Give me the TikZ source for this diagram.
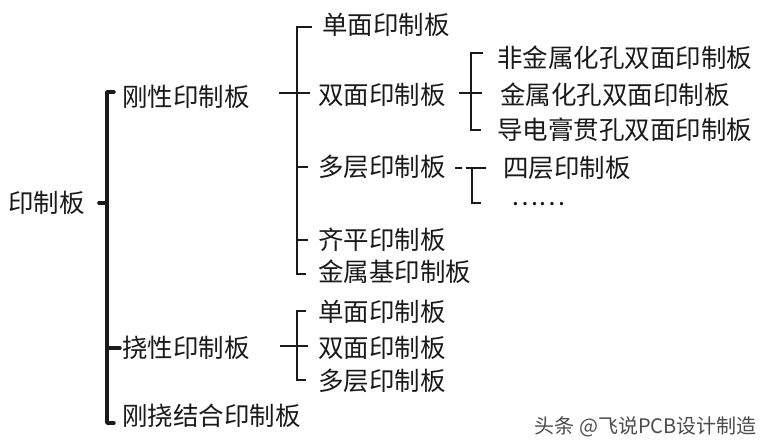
\documentclass[tikz,border=0pt]{standalone}
\usepackage{fontspec}
\setmainfont{Noto Sans CJK SC}
\definecolor{ink}{HTML}{1A1A1A}
\begin{document}
\begin{tikzpicture}[x=1pt,y=-1pt,
  lbl/.style={anchor=west,inner sep=0pt,font=\fontsize{25.5}{26}\selectfont,text=ink},
  mainbrk/.style={line width=3.4pt,line cap=round,line join=round,draw=ink},
  brk/.style={line width=1.8pt,line join=miter,draw=ink},
  wmark/.style={anchor=east,inner sep=0pt,font=\fontsize{20}{20}\selectfont,text=black!70}]
\fill[white] (0,0) rectangle (770,446);
\useasboundingbox (0,0) rectangle (770,446);

% level 0 and 1
\node[lbl] (root)  at (8,203)   {印制板};
\node[lbl] (rigid) at (122,97)  {刚性印制板};
\node[lbl] (flex)  at (122,348) {挠性印制板};
\node[lbl] (rf)    at (122,416) {刚挠结合印制板};

% rigid children
\node[lbl] (r1) at (322,25)  {单面印制板};
\node[lbl] (r2) at (318,95)  {双面印制板};
\node[lbl] (r3) at (318,167) {多层印制板};
\node[lbl] (r4) at (318,240) {齐平印制板};
\node[lbl] (r5) at (318,272) {金属基印制板};

% double-sided children
\node[lbl] (d1) at (497,58)  {非金属化孔双面印制板};
\node[lbl] (d2) at (500,95)  {金属化孔双面印制板};
\node[lbl] (d3) at (497,130) {导电膏贯孔双面印制板};

% multilayer children
\node[lbl] (m1) at (503,168) {四层印制板};
\node[lbl] (m2) at (511,204) {……};

% flexible children
\node[lbl] (f1) at (318,312) {单面印制板};
\node[lbl] (f2) at (318,348) {双面印制板};
\node[lbl] (f3) at (318,381) {多层印制板};

% watermark
\node[wmark] (wm) at (757,427) {头条 @飞说PCB设计制造};

% ---- main bracket
\coordinate (s0t) at (107,92);
\coordinate (s0b) at (107,423);
\draw[mainbrk] (114,92) -- (s0t) -- (s0b) -- (114,423);
\draw[mainbrk] ([xshift=14pt]root.east) -- (root.east -| s0t);
\draw[mainbrk] (s0t |- flex.west) -- ([xshift=-2pt]flex.west);

% ---- rigid bracket
\coordinate (s1t) at (297,27);
\coordinate (s1b) at (297,274);
\draw[brk] (312,27) -- (s1t) -- (s1b) -- (306,274);
\draw[brk] (279,93) -- (310,93);
\draw[brk] (s1t |- r3.west) -- (308,167);
\draw[brk] (s1t |- r4.west) -- (308,240);

% ---- flex bracket
\coordinate (s2t) at (297,311);
\coordinate (s2b) at (297,380);
\draw[brk] (306,311) -- (s2t) -- (s2b) -- (306,380);
\draw[brk] (280,346) -- (308,346);

% ---- double-sided bracket
\coordinate (s3t) at (471,53);
\coordinate (s3b) at (471,130);
\draw[brk] (483,53) -- (s3t) -- (s3b) -- (481,130);
\draw[brk] (459,93) -- (482,93);

% ---- multilayer bracket
\coordinate (s4t) at (472,168);
\coordinate (s4b) at (472,203);
\draw[brk] (455,168) -- (462,168);
\draw[brk] (466,168) -- (486,168);
\draw[brk] (s4t) -- (s4b) -- (481,203);
\end{tikzpicture}
\end{document}
